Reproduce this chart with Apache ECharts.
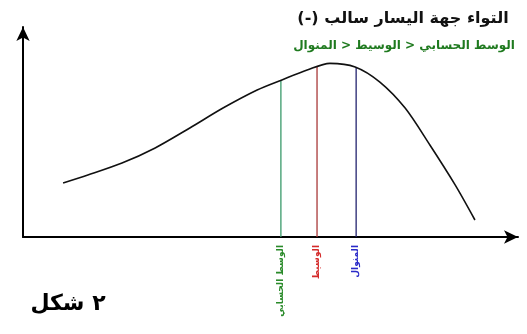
<!DOCTYPE html>
<html>
<head>
<meta charset="utf-8">
<script src="https://cdn.jsdelivr.net/npm/echarts@6/dist/echarts.min.js"></script>
<style>
  html, body { margin: 0; padding: 0; background: #fff; }
  #main { width: 527px; height: 334px; }
</style>
</head>
<body>
<div id="main"></div>
<script>
// منحنى التواء سالب - القيم مقروءة من الصورة
var curveX = [8.1, 13.1, 20.0, 26.7, 33.7, 40.4, 47.3, 52.3, 57.4, 62.0, 67.1, 72.1, 77.2, 82.2, 87.3, 91.3];
var curveY = [25.7, 29.5, 35.2, 42.4, 51.9, 61.4, 70.0, 74.8, 79.5, 82.7, 81.0, 73.8, 61.4, 43.8, 24.8, 8.1];

// الوسط الحسابي، الوسيط، المنوال
var markNames = ['الوسط الحسابي', 'الوسيط', 'المنوال'];
var markX = [52.1, 59.4, 67.3];
var markTop = [74.6, 81.2, 80.8];
var lineColors = ['#3a9a6a', '#a83838', '#22226e'];
var labelColors = ['#2a8a2a', '#d42a2a', '#2a2ac8'];

var titleText = 'التواء جهة اليسار سالب (-)';
var subText = 'الوسط الحسابي < الوسيط < المنوال';
var figText = 'شكل ٢';

var font = 'DejaVu Sans';
var RLM = '\u200F', LRM = '\u200E';

var curveData = [];
for (var i = 0; i < curveX.length; i++) {
  curveData.push([curveX[i], curveY[i]]);
}

var series = [{
  type: 'line',
  data: curveData,
  smooth: 0.3,
  symbol: 'none',
  lineStyle: { color: '#111', width: 1.6 },
  z: 3
}];
for (var k = 0; k < markX.length; k++) {
  series.push({
    type: 'line',
    data: [[markX[k], 0], [markX[k], markTop[k]]],
    symbol: 'none',
    lineStyle: { color: lineColors[k], width: 1.3 },
    z: 2
  });
}

var myChart = echarts.init(document.getElementById('main'));
var option = {
  backgroundColor: '#fff',
  animation: false,
  grid: { left: 23, right: 9, top: 27, bottom: 97 },
  xAxis: {
    type: 'value', min: 0, max: 100,
    splitLine: { show: false },
    axisTick: { show: false },
    axisLabel: { show: false },
    axisLine: { show: true, onZero: false, symbol: ['none', 'arrow'], symbolSize: [10, 14],
      lineStyle: { color: '#000', width: 2 } }
  },
  yAxis: {
    type: 'value', min: 0, max: 100,
    splitLine: { show: false },
    axisTick: { show: false },
    axisLabel: { show: false },
    axisLine: { show: true, onZero: false, symbol: ['none', 'arrow'], symbolSize: [10, 14],
      lineStyle: { color: '#000', width: 2 } }
  },
  series: series,
  graphic: [
    { type: 'text', x: 403, y: 19, style: { text: titleText + RLM, font: 'bold 16px "' + font + '"', fill: '#111', align: 'center', verticalAlign: 'middle' } },
    { type: 'text', x: 404, y: 46, style: { text: subText, font: 'bold 12px "' + font + '"', fill: '#1f7a1f', align: 'center', verticalAlign: 'middle' } },
    { type: 'text', x: 68, y: 304, style: { text: figText.replace(' ', LRM + ' '), font: 'bold 22px "' + font + '"', fill: '#000', align: 'center', verticalAlign: 'middle' } }
  ]
};
myChart.setOption(option);

// تسميات عمودية تحت الخطوط
var labels = [];
for (var m = 0; m < markX.length; m++) {
  var p = myChart.convertToPixel({ gridIndex: 0 }, [markX[m], 0]);
  labels.push({
    type: 'text', x: p[0], y: p[1] + 8, rotation: Math.PI / 2,
    style: { text: markNames[m], font: 'bold 9px "' + font + '"', fill: labelColors[m], align: 'right', verticalAlign: 'middle' }
  });
}
myChart.setOption({ graphic: option.graphic.concat(labels) });
</script>
</body>
</html>
